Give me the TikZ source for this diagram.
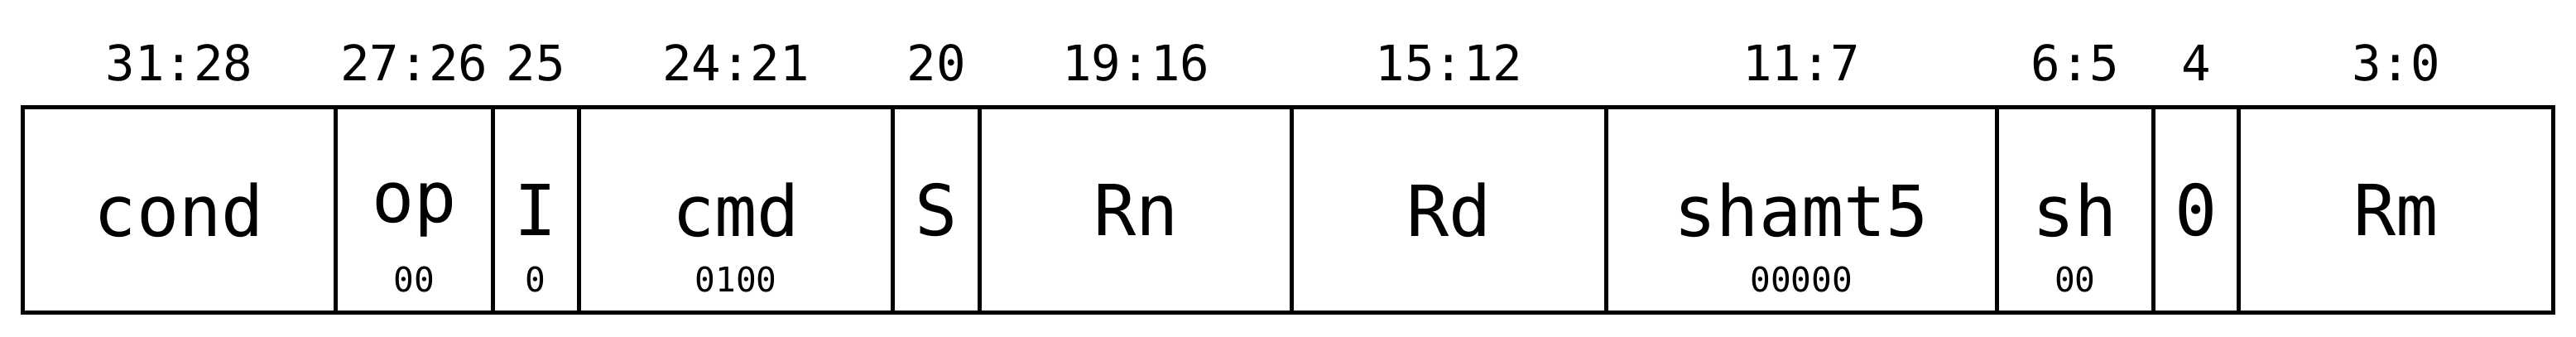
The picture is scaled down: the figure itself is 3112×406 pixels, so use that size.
\documentclass[tikz,border=0pt]{standalone}
\usepackage{fontspec}
\setmonofont{DejaVu Sans Mono}
\usetikzlibrary{positioning}
\tikzset{
    instr/.style={x=0.01cm, y=0.01cm, line width=1.42pt},
    field/.style={draw, rectangle, outer sep=0pt, inner sep=0pt, minimum height=2.48cm,
        font=\ttfamily\fontsize{24.2}{29}\selectfont},
    bits/.style={anchor=base, font=\ttfamily\fontsize{16.8}{20}\selectfont},
    % fixed bit values, set under the field name
    fixed/.style={anchor=base, font=\ttfamily\fontsize{11.7}{14}\selectfont},
}

\begin{document}
\begin{tikzpicture}[instr]
    \useasboundingbox (0,0) rectangle (3112,406);

    \node[field, minimum width=3.775cm, anchor=north west] (cond) at (27.5,276.5) {cond};
    \node[field, minimum width=1.9cm, right=0pt of cond] (op) {op};
    \node[field, minimum width=1.04cm, right=0pt of op] (I) {I};
    \node[field, minimum width=3.79cm, right=0pt of I] (cmd) {cmd};
    \node[field, minimum width=1.05cm, right=0pt of cmd] (S) {S};
    \node[field, minimum width=3.77cm, right=0pt of S] (Rn) {Rn};
    \node[field, minimum width=3.79cm, right=0pt of Rn] (Rd) {Rd};
    \node[field, minimum width=4.72cm, right=0pt of Rd] (shamt) {shamt5};
    \node[field, minimum width=1.89cm, right=0pt of shamt] (sh) {sh};
    \node[field, minimum width=1.03cm, right=0pt of sh] (zero) {0};
    \node[field, minimum width=3.80cm, right=0pt of zero] (Rm) {Rm};

    \node[bits] (bcond) at ([yshift=0.315cm]cond.north) {31:28};
    \node[bits] (bop) at ([yshift=0.315cm]op.north) {27:26};
    \node[bits] (bI) at ([yshift=0.315cm]I.north) {25};
    \node[bits] (bcmd) at ([yshift=0.315cm]cmd.north) {24:21};
    \node[bits] (bS) at ([yshift=0.315cm]S.north) {20};
    \node[bits] (bRn) at ([yshift=0.315cm]Rn.north) {19:16};
    \node[bits] (bRd) at ([yshift=0.315cm]Rd.north) {15:12};
    \node[bits] (bshamt) at ([yshift=0.315cm]shamt.north) {11:7};
    \node[bits] (bsh) at ([yshift=0.315cm]sh.north) {6:5};
    \node[bits] (bzero) at ([yshift=0.315cm]zero.north) {4};
    \node[bits] (bRm) at ([yshift=0.315cm]Rm.north) {3:0};

    \node[fixed] (vop) at ([yshift=-0.985cm]op.center) {00};
    \node[fixed] (vI) at ([yshift=-0.985cm]I.center) {0};
    \node[fixed] (vcmd) at ([yshift=-0.985cm]cmd.center) {0100};
    \node[fixed] (vshamt) at ([yshift=-0.985cm]shamt.center) {00000};
    \node[fixed] (vsh) at ([yshift=-0.985cm]sh.center) {00};
\end{tikzpicture}
\end{document}
